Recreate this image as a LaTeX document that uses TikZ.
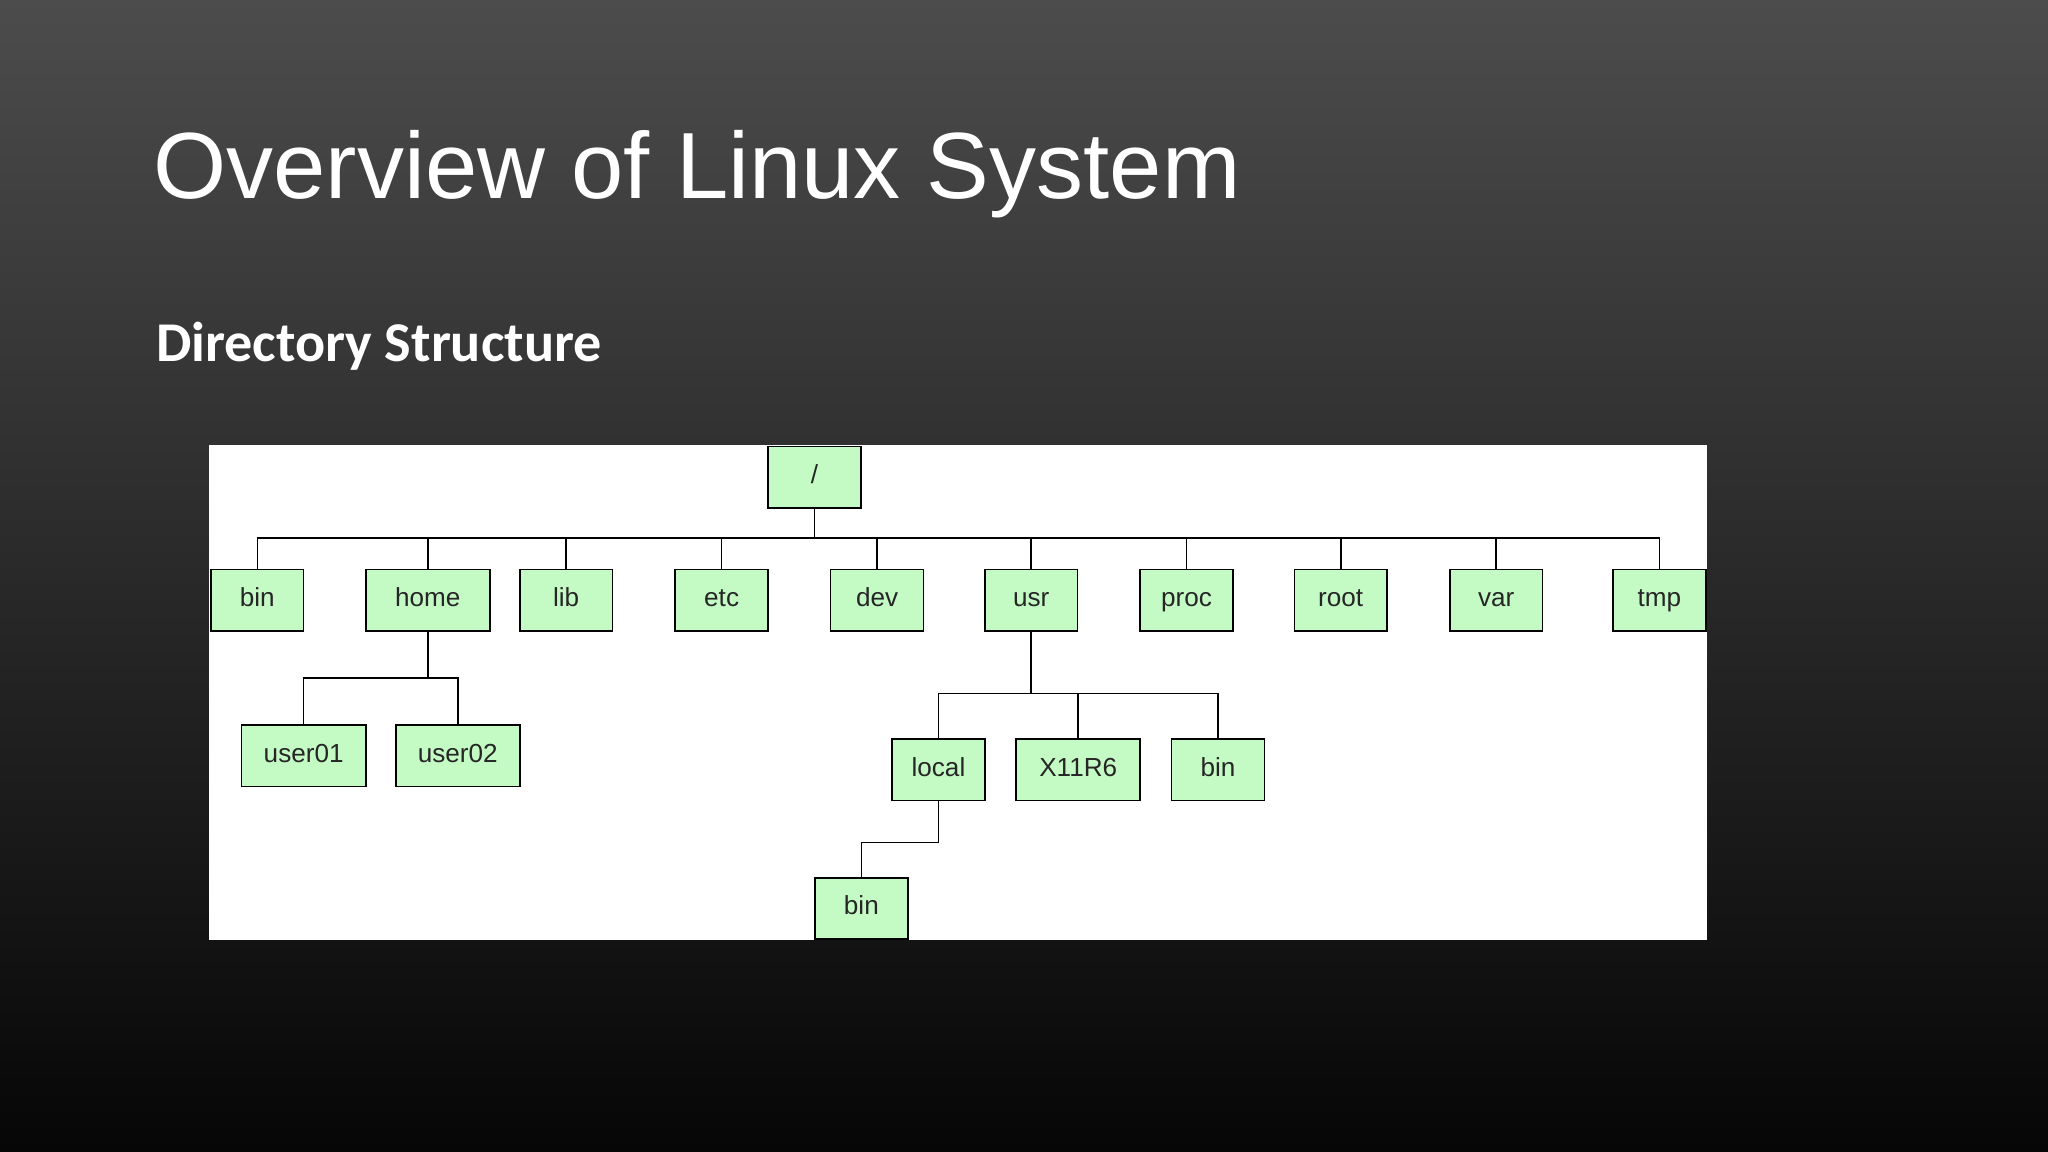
\documentclass[tikz,border=0pt]{standalone}
\usepackage{fontspec}
\setmainfont{Liberation Sans}
\newfontfamily\carl{Carlito}
\begin{document}
\begin{tikzpicture}[x=1pt,y=-1pt,
  box/.style={draw=black,line width=1.2pt,fill=boxg,minimum width=71pt,minimum height=47pt,inner sep=0pt,text height=14pt,text depth=4pt,font=\fontsize{20}{22}\selectfont,text=black!85},
  wbox/.style={box,minimum width=95pt},
  ln/.style={draw=black,line width=1.2pt}]
\definecolor{boxg}{HTML}{C4FBC4}
\shade[top color={rgb,255:red,76;green,76;blue,76}, bottom color={rgb,255:red,6;green,6;blue,6}] (0,0) rectangle (1568,882);
\useasboundingbox (0,0) rectangle (1568,882);
\node[anchor=west,text=white,font=\fontsize{72}{74}\selectfont] (title) at (114,133) {Overview of Linux System};
\node[anchor=west,text=white,font=\carl\bfseries\fontsize{43}{46}\selectfont] (sub) at (116,265) {Directory Structure};
\fill[white] (160,341) rectangle (1307,720);
\node[box] (root) at (623.5,365.5) {/};
\foreach \n/\x/\t/\s in {bin/197/bin/box, home/327.5/home/wbox, lib/433.5/lib/box, etc/552.5/etc/box, dev/671.5/dev/box, usr/789.5/usr/box, proc/908.5/proc/box, rt/1026.5/root/box, var/1145.5/var/box, tmp/1270.5/tmp/box}
  {\node[\s] (\n) at (\x,459.5) {\t};
   \draw[ln] (\n.north) |- (root.south |- 0,412) -- (root.south);}
\node[wbox] (u1) at (232.5,578.5) {user01};
\node[wbox] (u2) at (350.5,578.5) {user02};
\foreach \n in {u1,u2} \draw[ln] (\n.north) |- (home.south |- 0,519) -- (home.south);
\node[box] (local) at (718.5,589.5) {local};
\node[wbox] (x11) at (825.5,589.5) {X11R6};
\node[box] (ubin) at (932.5,589.5) {bin};
\foreach \n in {local,x11,ubin} \draw[ln] (\n.north) |- (usr.south |- 0,531) -- (usr.south);
\node[box] (lbin) at (659.5,695.5) {bin};
\draw[ln] (lbin.north) |- (local.south |- 0,645) -- (local.south);
\end{tikzpicture}
\end{document}
